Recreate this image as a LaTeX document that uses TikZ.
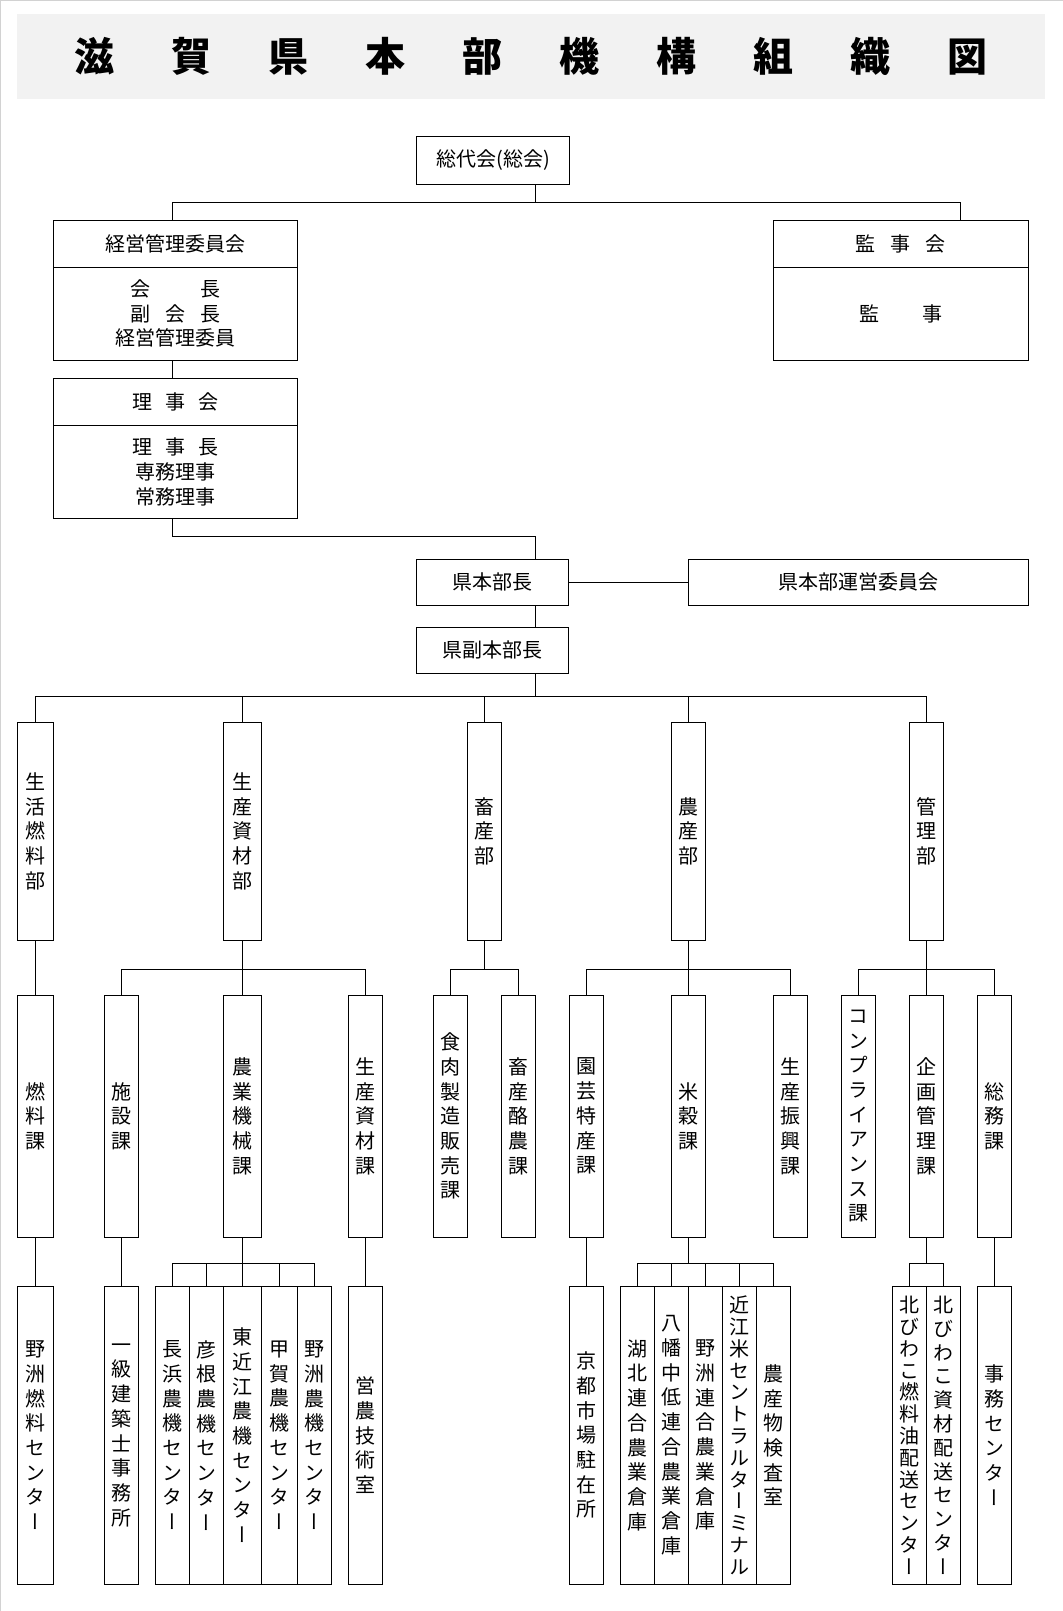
\documentclass[tikz,border=0pt]{standalone}
\usepackage{fontspec}
\newfontfamily\jp{Noto Sans CJK JP}
\newfontfamily\jpv[RawFeature=+vert]{Noto Sans CJK JP}
\usetikzlibrary{positioning}

\begin{document}
\begin{tikzpicture}[
    x=0.5pt, y=-0.5pt, line width=0.5pt,
    box/.style={draw, inner sep=0pt, outer sep=0pt, align=center, font=\jp\fontsize{10pt}{12.35pt}\selectfont},
    tate/.style={box, minimum width=17pt, font=\jpv\fontsize{10pt}{12.35pt}\selectfont},
    bu/.style={tate, minimum height=108.85pt},
    ka/.style={tate, minimum height=120.85pt},
    sho/.style={tate, minimum height=148.85pt},
    tight/.style={font=\jpv\fontsize{10pt}{10.9pt}\selectfont}
]
    \useasboundingbox (0,0) rectangle (1063,1611);
    \draw[gray!35, line width=1pt] (0,1611) -- (0,0) -- (1063,0);

    \node[fill=gray!10, minimum width=513.75pt, minimum height=42.75pt, inner sep=0pt,
          font=\jp\bfseries\fontsize{20pt}{24pt}\selectfont] (title) at (530.75,56.75)
        {\raisebox{-1.4pt}{\makebox[456.5pt][s]{滋\hfill 賀\hfill 県\hfill 本\hfill 部\hfill 機\hfill 構\hfill 組\hfill 織\hfill 図}}};

    \node[box, minimum width=76.5pt, minimum height=24pt] (soudai) at (493,160.2) {総代会(総会)};
    \node[box, minimum width=122pt, minimum height=23.5pt] (keiei) at (175.4,243.8) {経営管理委員会};
    \node[box, minimum width=122pt, minimum height=46.35pt, below=0pt of keiei] (keieiyaku)
        {\makebox[45pt][s]{会\hfill 長}\\\makebox[45pt][s]{副\hfill 会\hfill 長}\\経営管理委員};
    \node[box, minimum width=122pt, minimum height=23.5pt] (riji) at (175.4,401.8)
        {\makebox[43pt][s]{理\hfill 事\hfill 会}};
    \node[box, minimum width=122pt, minimum height=46.5pt, below=0pt of riji] (rijiyaku)
        {\makebox[43pt][s]{理\hfill 事\hfill 長}\\専務理事\\常務理事};
    \node[box, minimum width=127.5pt, minimum height=23.5pt] (kanji) at (900.8,243.8)
        {\makebox[45pt][s]{監\hfill 事\hfill 会}};
    \node[box, minimum width=127.5pt, minimum height=46.35pt, below=0pt of kanji] (kanjiyaku)
        {\makebox[41.7pt][s]{監\hfill 事}};
    \node[box, minimum width=76.3pt, minimum height=23pt] (honbucho) at (492.5,582.3) {県本部長};
    \node[box, minimum width=170pt, minimum height=23pt] (unei) at (858.3,582.3) {県本部運営委員会};
    \node[box, minimum width=76.3pt, minimum height=23pt] (fukuhonbucho) at (492.5,650.3) {県副本部長};

    \node[bu, minimum width=18.3pt] (seikatsu) at (35.3,831.2) {生\\活\\燃\\料\\部};
    \node[bu, minimum width=18.65pt] (seisanshizai) at (242.4,831.2) {生\\産\\資\\材\\部};
    \node[bu] (chikusan) at (484,831.2) {畜\\産\\部};
    \node[bu] (nousan) at (688,831.2) {農\\産\\部};
    \node[bu] (kanri) at (926,831.2) {管\\理\\部};

    \node[ka, minimum width=18.1pt] (nenryouka) at (35.3,1116.2) {燃\\料\\課};
    \node[ka] (shisetsuka) at (121.4,1116.2) {施\\設\\課};
    \node[ka, minimum width=18.95pt] (kikaika) at (242.5,1116.2) {農\\業\\機\\械\\課};
    \node[ka] (shizaika) at (365.3,1116.2) {生\\産\\資\\材\\課};
    \node[ka] (shokunikuka) at (450.4,1116.2) {食\\肉\\製\\造\\販\\売\\課};
    \node[ka] (rakunouka) at (518.3,1116.2) {畜\\産\\酪\\農\\課};
    \node[ka] (engeika) at (586.4,1116.2) {園\\芸\\特\\産\\課};
    \node[ka] (beikokuka) at (688.4,1116.2) {米\\穀\\課};
    \node[ka] (shinkouka) at (790.3,1116.2) {生\\産\\振\\興\\課};
    \node[ka] (compliance) at (858.2,1116.2) {コ\\ン\\プ\\ラ\\イ\\ア\\ン\\ス\\課};
    \node[ka] (kikakuka) at (926.2,1116.2) {企\\画\\管\\理\\課};
    \node[ka] (soumuka) at (994.2,1116.2) {総\\務\\課};

    \node[sho, minimum width=18.1pt] (yasunenryou) at (35.3,1435.2) {野\\洲\\燃\\料\\セ\\ン\\タ\\ー};
    \node[sho] (kenchikushi) at (121.4,1435.2) {一\\級\\建\\築\\士\\事\\務\\所};
    \node[sho, minimum width=17.05pt] (nagahama) at (172.35,1435.2) {長\\浜\\農\\機\\セ\\ン\\タ\\ー};
    \node[sho, minimum width=17.05pt] (hikone) at (206.45,1435.2) {彦\\根\\農\\機\\セ\\ン\\タ\\ー};
    \node[sho, minimum width=19.1pt] (higashiomi) at (242.6,1435.2) {東\\近\\江\\農\\機\\セ\\ン\\タ\\ー};
    \node[sho, minimum width=17.75pt] (kouka) at (279.45,1435.2) {甲\\賀\\農\\機\\セ\\ン\\タ\\ー};
    \node[sho, minimum width=17.05pt] (yasunouki) at (314.25,1435.2) {野\\洲\\農\\機\\セ\\ン\\タ\\ー};
    \node[sho] (einou) at (365.3,1435.2) {営\\農\\技\\術\\室};
    \node[sho] (kyoto) at (586.4,1435.2) {京\\都\\市\\場\\駐\\在\\所};
    \node[sho] (kohoku) at (637.4,1435.2) {湖\\北\\連\\合\\農\\業\\倉\\庫};
    \node[sho] (hachiman) at (671.4,1435.2) {八\\幡\\中\\低\\連\\合\\農\\業\\倉\\庫};
    \node[sho] (yasusouko) at (705.4,1435.2) {野\\洲\\連\\合\\農\\業\\倉\\庫};
    \node[sho, tight] (omimai) at (739.4,1435.2) {近\\江\\米\\セ\\ン\\ト\\ラ\\ル\\タ\\ー\\ミ\\ナ\\ル};
    \node[sho] (kensa) at (773.5,1435.2) {農\\産\\物\\検\\査\\室};
    \node[sho, tight] (kitabiwanenryou) at (909.2,1435.2) {北\\び\\わ\\こ\\燃\\料\\油\\配\\送\\セ\\ン\\タ\\ー};
    \node[sho, font=\jpv\fontsize{10pt}{11.9pt}\selectfont] (kitabiwashizai) at (943.2,1435.2) {北\\び\\わ\\こ\\資\\材\\配\\送\\セ\\ン\\タ\\ー};
    \node[sho] (jimu) at (994.2,1435.2) {事\\務\\セ\\ン\\タ\\ー};

    \coordinate (trunk) at (535.5,0);
    \coordinate (lcol) at (172.4,0);
    \coordinate (rcol) at (960.3,0);
    \coordinate (bus0) at (0,202.3);
    \coordinate (bus1) at (0,536.7);
    \coordinate (bus2) at (0,696);
    \coordinate (bus3) at (0,969.3);
    \coordinate (bus4) at (0,1263.3);

    \draw (soudai.south -| trunk) -- (bus0 -| trunk);
    \draw (keiei.north -| lcol) -- (bus0 -| lcol) -- (bus0 -| rcol) -- (kanji.north -| rcol);
    \draw (keieiyaku.south -| lcol) -- (riji.north -| lcol);
    \draw (rijiyaku.south -| lcol) -- (bus1 -| lcol) -- (bus1 -| trunk) -- (honbucho.north -| trunk);
    \draw (honbucho) -- (unei);
    \draw (honbucho.south -| trunk) -- (fukuhonbucho.north -| trunk);
    \draw (fukuhonbucho.south -| trunk) -- (bus2 -| trunk);
    \draw (bus2 -| seikatsu) -- (bus2 -| kanri);
    \foreach \b in {seikatsu, seisanshizai, chikusan, nousan, kanri}
        \draw (bus2 -| \b) -- (\b.north);

    \draw (seikatsu) -- (nenryouka);
    \draw (seisanshizai.south) -- (bus3 -| seisanshizai);
    \draw (bus3 -| shisetsuka) -- (bus3 -| shizaika);
    \draw (chikusan.south) -- (bus3 -| chikusan);
    \draw (bus3 -| shokunikuka) -- (bus3 -| rakunouka);
    \draw (nousan.south) -- (bus3 -| nousan);
    \draw (bus3 -| engeika) -- (bus3 -| shinkouka);
    \draw (kanri.south) -- (bus3 -| kanri);
    \draw (bus3 -| compliance) -- (bus3 -| soumuka);
    \foreach \k in {shisetsuka, kikaika, shizaika, shokunikuka, rakunouka, engeika, beikokuka, shinkouka, compliance, kikakuka, soumuka}
        \draw (bus3 -| \k) -- (\k.north);

    \draw (nenryouka) -- (yasunenryou);
    \draw (shisetsuka) -- (kenchikushi);
    \draw (shizaika) -- (einou);
    \draw (engeika) -- (kyoto);
    \draw (soumuka) -- (jimu);
    \draw (kikaika.south) -- (bus4 -| kikaika);
    \draw (bus4 -| nagahama) -- (bus4 -| yasunouki);
    \draw (beikokuka.south) -- (bus4 -| beikokuka);
    \draw (bus4 -| kohoku) -- (bus4 -| kensa);
    \draw (kikakuka.south) -- (bus4 -| kikakuka);
    \draw (bus4 -| kitabiwanenryou) -- (bus4 -| kitabiwashizai);
    \foreach \s in {nagahama, hikone, higashiomi, kouka, yasunouki, kohoku, hachiman, yasusouko, omimai, kensa, kitabiwanenryou, kitabiwashizai}
        \draw (bus4 -| \s) -- (\s.north);
\end{tikzpicture}
\end{document}
